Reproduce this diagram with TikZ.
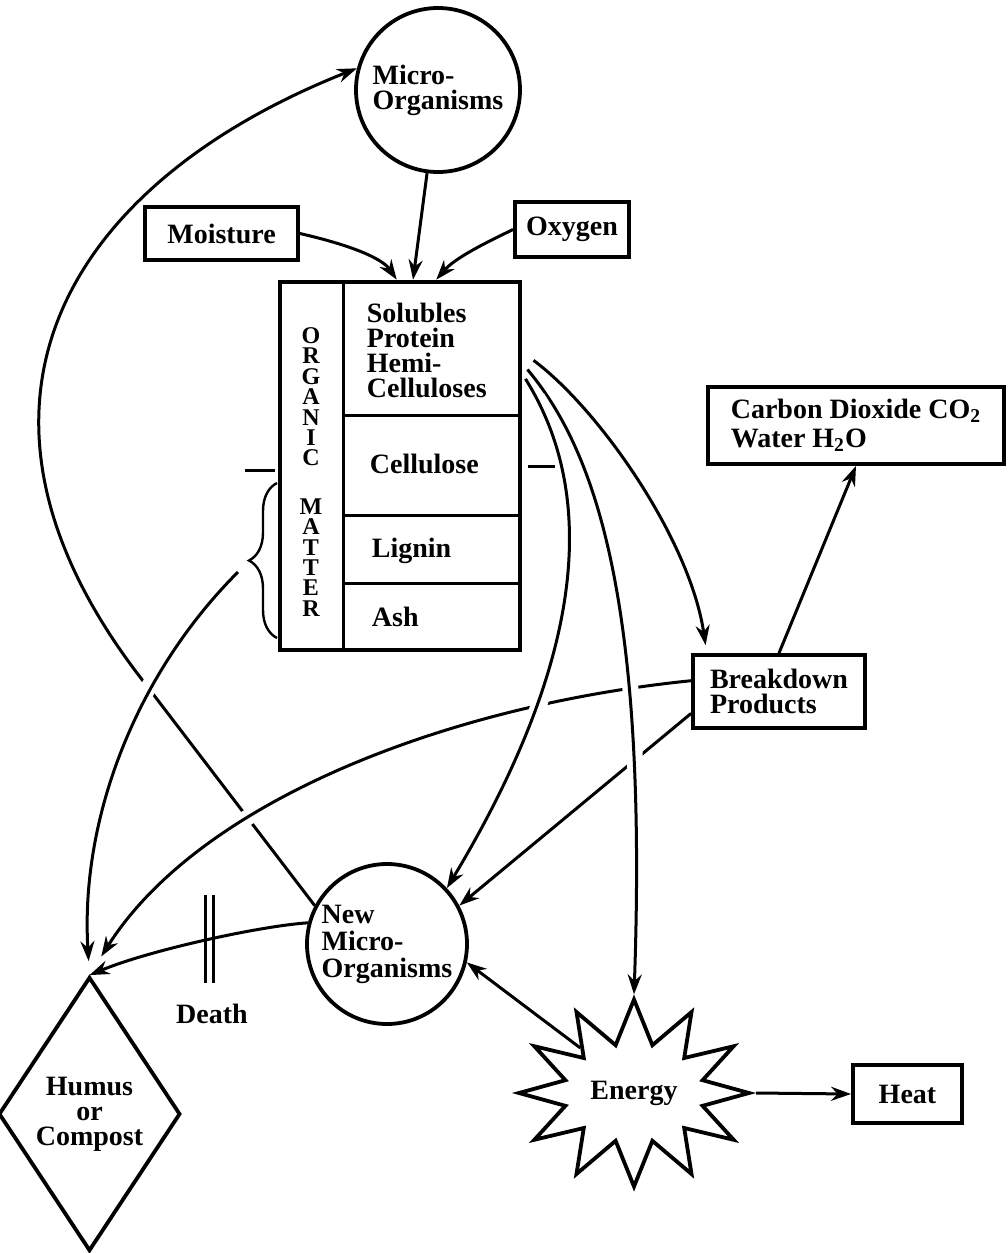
\documentclass[tikz,border=0pt]{standalone}
\usepackage{fontspec}
\setmainfont{Liberation Serif}
\usetikzlibrary{shapes.geometric, shapes.symbols, decorations.pathreplacing, arrows.meta}

\begin{document}
\begin{tikzpicture}[->, >={Stealth[length=10pt, width=7pt]}, x=0.5pt, y=-0.5pt, line width=1.5pt,
        every node/.style={font=\fontsize{14}{12.5}\selectfont\bfseries, line width=1.9pt},
        box/.style={rectangle, draw, inner sep=0pt},
        txt/.style={anchor=west, inner sep=0pt, align=left},
        gap/.style={preaction={draw=white, line width=8pt, -, shorten <=14pt, shorten >=14pt}}]
        \useasboundingbox (0,0) rectangle (1007,1253);

        % nodes
        \node (mo) [circle, draw, minimum size=82pt, inner sep=0pt, align=left] at (438,90) {Micro-\\Organisms};
        \node (moist) [box, minimum width=76.5pt, minimum height=26.5pt] at (221.5,233.5) {Moisture};
        \node (oxy) [box, minimum width=57pt, minimum height=27.5pt] at (572,229.5) {Oxygen};
        \node (om) [box, line width=2.3pt, minimum width=120pt, minimum height=184pt] at (400,466) {};
        \node (orgname) [font=\fontsize{12}{10.2}\selectfont\bfseries, align=center] at (311,472)
            {O\\R\\G\\A\\N\\I\\C\\[14pt]M\\A\\T\\T\\E\\R};
        \node (sol) [txt] at (365,350) {Solubles\\Protein\\Hemi-\\Celluloses};
        \node (cel) [txt] at (368,464) {Cellulose};
        \node (lig) [txt] at (370,551) {Lignin};
        \node (ash) [txt] at (370,617) {Ash};
        \node (co2) [box, minimum width=148pt, minimum height=38.5pt, align=left] at (856,425.5)
            {Carbon Dioxide CO\textsubscript{2}\\[2pt]Water H\textsubscript{2}O};
        \node (bd) [box, minimum width=86pt, minimum height=36.5pt, align=left] at (779,691.5) {Breakdown\\Products};
        \node (newmo) [circle, draw, minimum size=80pt, inner sep=0pt, align=left,
            font=\fontsize{14}{13.5}\selectfont\bfseries] at (387,944) {New\\Micro-\\Organisms};
        \node (hum) [diamond, draw, minimum width=77.5pt, minimum height=137pt, inner sep=0pt, align=center]
            at (89.5,1114) {Humus\\or\\Compost};
        \node (death) at (212,1014) {Death};
        \node (en) [starburst, draw, starburst points=12, starburst point height=22pt, random starburst=0,
            shape border rotate=10, minimum width=114.5pt, minimum height=93.5pt] at (634,1093) {Energy};
        \node (heat) [box, minimum width=54.5pt, minimum height=29pt] at (907.5,1094) {Heat};
        \coordinate (bracetip) at (238,572);

        % organic matter compartments
        \draw[-] (343,282) -- (343,650);
        \draw[-] (343,415) -- (520,415);
        \draw[-] (343,515) -- (520,515);
        \draw[-] (343,583) -- (520,583);
        \draw[-] (245,470) -- (275,470);
        \draw[-] (528,466) -- (555,466);
        \draw[-, line width=1.2pt, decorate, decoration={brace, amplitude=14pt}] (277,638) -- (277,483);
        \draw[-] (205,895) -- (205,983);
        \draw[-] (213,895) -- (213,983);

        % inputs
        \draw (moist.east) .. controls (350,245) and (382,258) .. (om.91);
        \draw (mo) -- (om.86);
        \draw (oxy.west) .. controls (485,243) and (455,258) .. (om.79);

        % cycle
        \draw (newmo.152) -- (137,673) .. controls (-68,402) and (70,182) .. (mo.165);
        \draw (bd.194) -- (newmo.28);
        \draw[gap, shorten >=11pt] (bd.173) .. controls (450,705) and (200,800) .. (hum.north);
        \draw[gap, shorten >=7pt] (bracetip) .. controls (135,675) and (80,820) .. (hum.north);
        \draw[gap, shorten <=4pt] (om.40) .. controls (595,450) and (648,600) .. (en.north);
        \draw[gap, shorten <=3pt] (om.37) .. controls (595,490) and (590,650) .. (newmo.43);
        \draw[shorten <=7pt, shorten >=4pt] (om.43) .. controls (600,410) and (690,540) .. (bd.152);
        \draw (bd.north) -- (co2.south);
        \draw (newmo.165) .. controls (260,926) and (150,950) .. (hum.north);
        \draw (en.140) -- (newmo.-13);
        \draw (en.east) -- (heat.west);
    \end{tikzpicture}
\end{document}
